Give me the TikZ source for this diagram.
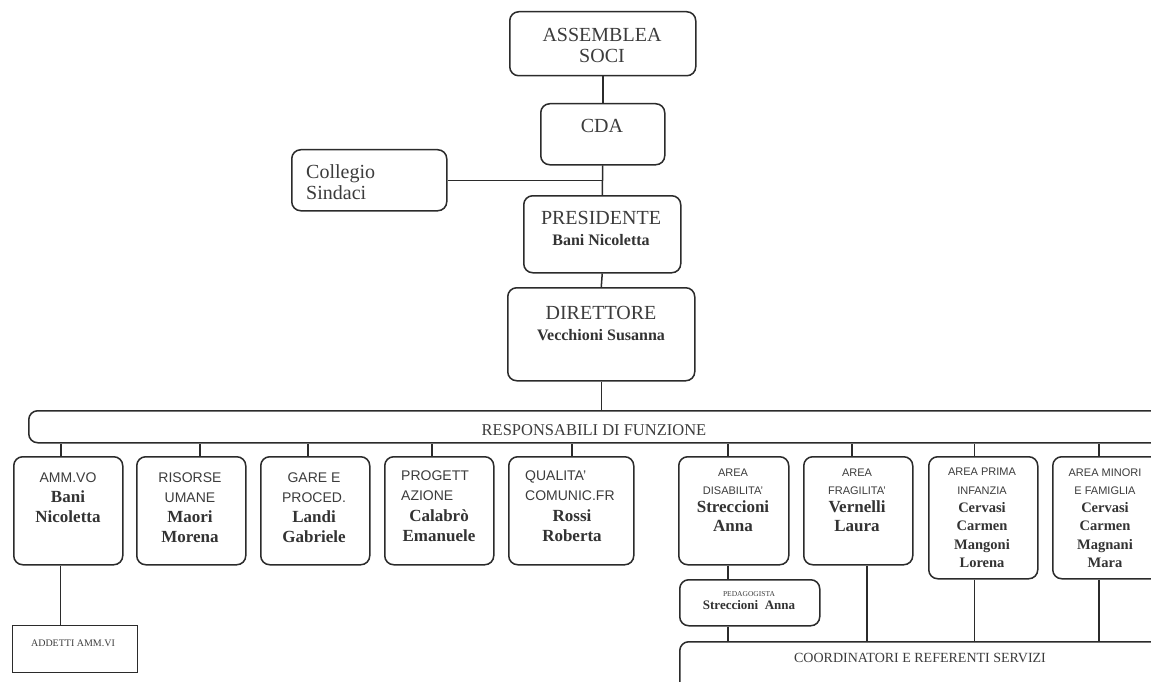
\documentclass[tikz,border=0pt]{standalone}
\usepackage{fontspec}
\setmainfont{Liberation Serif}
\setsansfont{Liberation Sans}
\definecolor{ln}{HTML}{2B2B2B}
\definecolor{tx}{HTML}{3C3C3C}
\definecolor{nm}{HTML}{333333}
\newcommand\ttlf{\fontsize{20}{21}\selectfont}
\newcommand\topnm{\bfseries\fontsize{16}{21}\selectfont\color{nm}}
\newcommand\sfl{\sffamily\fontsize{14}{20}\selectfont\color{tx}}
\newcommand\rownm{\rmfamily\bfseries\fontsize{17}{20}\selectfont\color{nm}}
\newcommand\sfa{\sffamily\fontsize{11}{18}\selectfont\color{tx}}
\newcommand\arnm{\rmfamily\bfseries\fontsize{17}{20}\selectfont\color{nm}}
\newcommand\arnms{\rmfamily\bfseries\fontsize{14.5}{18.3}\selectfont\color{nm}}
\begin{document}
\begin{tikzpicture}[x=1pt,y=-1pt,
  box/.style={draw=ln, line width=1.5pt, rounded corners=9pt, inner sep=0pt, anchor=north west, fill=white},
  sqbox/.style={draw=ln, line width=1.4pt, inner sep=0pt, anchor=north west, fill=white},
  txt/.style={text=tx, inner sep=0pt, align=center},
  txl/.style={text=tx, inner sep=0pt, align=left},
  bs21/.style={font=\fontsize{20}{21}\selectfont},
  bs20/.style={font=\fontsize{17}{20}\selectfont},
  bs18/.style={font=\fontsize{14}{18.3}\selectfont},
  conn/.style={draw=ln, line width=1.5pt}]
\useasboundingbox (0,0) rectangle (1151,682);
\fill[white] (0,0) rectangle (1151,682);
\clip (0,0) rectangle (1151,682);

% boxes
\node[box, minimum width=186pt, minimum height=64pt] (ass) at (509,11) {};
\node[box, minimum width=124pt, minimum height=61pt] (cda) at (540,103) {};
\node[box, minimum width=155pt, minimum height=61pt] (col) at (291,149) {};
\node[box, minimum width=157pt, minimum height=77pt] (pres) at (523,195) {};
\node[box, minimum width=187pt, minimum height=93pt] (dir) at (507,287) {};
\node[box, minimum width=1140pt, minimum height=32pt] (resp) at (28,410) {};
\node[box, minimum width=109pt, minimum height=108pt] (ammvo) at (13,456) {};
\node[box, minimum width=109pt, minimum height=108pt] (ris) at (136,456) {};
\node[box, minimum width=109pt, minimum height=108pt] (gare) at (260,456) {};
\node[box, minimum width=109pt, minimum height=108pt] (prog) at (384,456) {};
\node[box, minimum width=125pt, minimum height=108pt] (qual) at (508,456) {};
\node[box, minimum width=110pt, minimum height=108pt] (dis) at (678,456) {};
\node[box, minimum width=109pt, minimum height=108pt] (fra) at (803,456) {};
\node[box, minimum width=109pt, minimum height=122pt] (pri) at (928,456) {};
\node[box, minimum width=108pt, minimum height=122pt] (min) at (1052,456) {};
\node[box, minimum width=140pt, minimum height=46pt] (ped) at (679,579) {};
\node[box, minimum width=490pt, minimum height=60pt] (coo) at (679,641) {};
\node[sqbox, minimum width=125pt, minimum height=47pt] (add) at (12,625) {};

% connectors
\draw[conn] (ass.south) -- (cda.north);
\draw[conn] (cda.south) -- (pres.north);
\draw[conn] (col.east) -- (col.east -| cda.south);
\draw[conn] (pres.south) -- (dir.north);
\draw[conn] (dir.south) -- (dir.south |- resp.north);
\draw[conn] ([xshift=-7.5pt]ammvo.north) -- ([xshift=-7.5pt]ammvo.north |- resp.south);
\draw[conn] ([xshift=8.5pt]ris.north) -- ([xshift=8.5pt]ris.north |- resp.south);
\draw[conn] ([xshift=-7.5pt]gare.north) -- ([xshift=-7.5pt]gare.north |- resp.south);
\draw[conn] ([xshift=-7.5pt]prog.north) -- ([xshift=-7.5pt]prog.north |- resp.south);
\draw[conn] ([xshift=0.5pt]qual.north) -- ([xshift=0.5pt]qual.north |- resp.south);
\draw[conn] ([xshift=-6pt]dis.north) -- ([xshift=-6pt]dis.north |- resp.south);
\draw[conn] ([xshift=-6.5pt]fra.north) -- ([xshift=-6.5pt]fra.north |- resp.south);
\draw[conn] ([xshift=-9pt]pri.north) -- ([xshift=-9pt]pri.north |- resp.south);
\draw[conn] ([xshift=-8pt]min.north) -- ([xshift=-8pt]min.north |- resp.south);
\draw[conn] ([xshift=-8pt]ammvo.south) -- ([xshift=-8pt]ammvo.south |- add.north);
\draw[conn] ([xshift=-6pt]dis.south) -- ([xshift=-6pt]dis.south |- ped.north);
\draw[conn] ([xshift=-22pt]ped.south) -- ([xshift=-22pt]ped.south |- coo.north);
\draw[conn] ([xshift=8.5pt]fra.south) -- ([xshift=8.5pt]fra.south |- coo.north);
\draw[conn] ([xshift=-9pt]pri.south) -- ([xshift=-9pt]pri.south |- coo.north);
\draw[conn] ([xshift=-8pt]min.south) -- ([xshift=-8pt]min.south |- coo.north);

% texts
\node[txt, bs21] (tass) at (602,45) {ASSEMBLEA\\SOCI};
\node[txt, bs21] (tcda) at (602,126) {CDA};
\node[txl, bs21, anchor=west] (tcol) at (306,182) {Collegio\\Sindaci};
\node[txt, bs21] (tpres) at (601,228) {\ttlf PRESIDENTE\\\topnm Bani Nicoletta};
\node[txt, bs21] (tdir) at (601,323) {\ttlf DIRETTORE\\\topnm Vecchioni Susanna};
\node[txt, font=\fontsize{16.5}{18}\selectfont] (tresp) at (594,430) {RESPONSABILI DI FUNZIONE};

\node[txt, bs20] (tammvo) at (68,498) {\sfl AMM.VO\\\rownm Bani\\\rownm Nicoletta};
\node[txt, bs20] (tris) at (190,508) {\sfl RISORSE\\\sfl UMANE\\\rownm Maori\\\rownm Morena};
\node[txt, bs20] (tgare) at (314,508) {\sfl GARE E\\\sfl PROCED.\\\rownm Landi\\\rownm Gabriele};
\node[txl, bs20, anchor=north west] (tprog) at (401,471) {\sfl PROGETT\\\sfl AZIONE};
\node[txt, bs20, anchor=north] (tprogn) at (439,509) {\rownm Calabrò\\\rownm Emanuele};
\node[txl, bs20, anchor=north west] (tqual) at (525,471) {\sfl QUALITA'\\\sfl COMUNIC.FR};
\node[txt, bs20, anchor=north] (tqualn) at (572,509) {\rownm Rossi\\\rownm Roberta};

\node[txt, bs18] (tdis) at (733,500) {\sfa AREA\\\sfa DISABILITA'\\\arnm Streccioni\\\arnm Anna};
\node[txt, bs18] (tfra) at (857,500) {\sfa AREA\\\sfa FRAGILITA'\\\arnm Vernelli\\\arnm Laura};
\node[txt, bs18] (tpri) at (982,518) {\sfa AREA PRIMA\\\sfa INFANZIA\\\arnms Cervasi\\\arnms Carmen\\\arnms Mangoni\\\arnms Lorena};
\node[txt, bs18] (tmin) at (1105,518) {\sfa AREA MINORI\\\sfa E FAMIGLIA\\\arnms Cervasi\\\arnms Carmen\\\arnms Magnani\\\arnms Mara};

\node[txt, font=\fontsize{10}{13}\selectfont] (tped) at (749,601) {\fontsize{7.5}{12}\selectfont PEDAGOGISTA\\\bfseries\fontsize{13}{12}\selectfont\color{nm} Streccioni~~Anna};
\node[txt, font=\fontsize{14}{16}\selectfont] (tcoo) at (920,658) {COORDINATORI E REFERENTI SERVIZI};
\node[txt, font=\fontsize{10}{12}\selectfont] (tadd) at (73,643) {ADDETTI AMM.VI};
\end{tikzpicture}
\end{document}
